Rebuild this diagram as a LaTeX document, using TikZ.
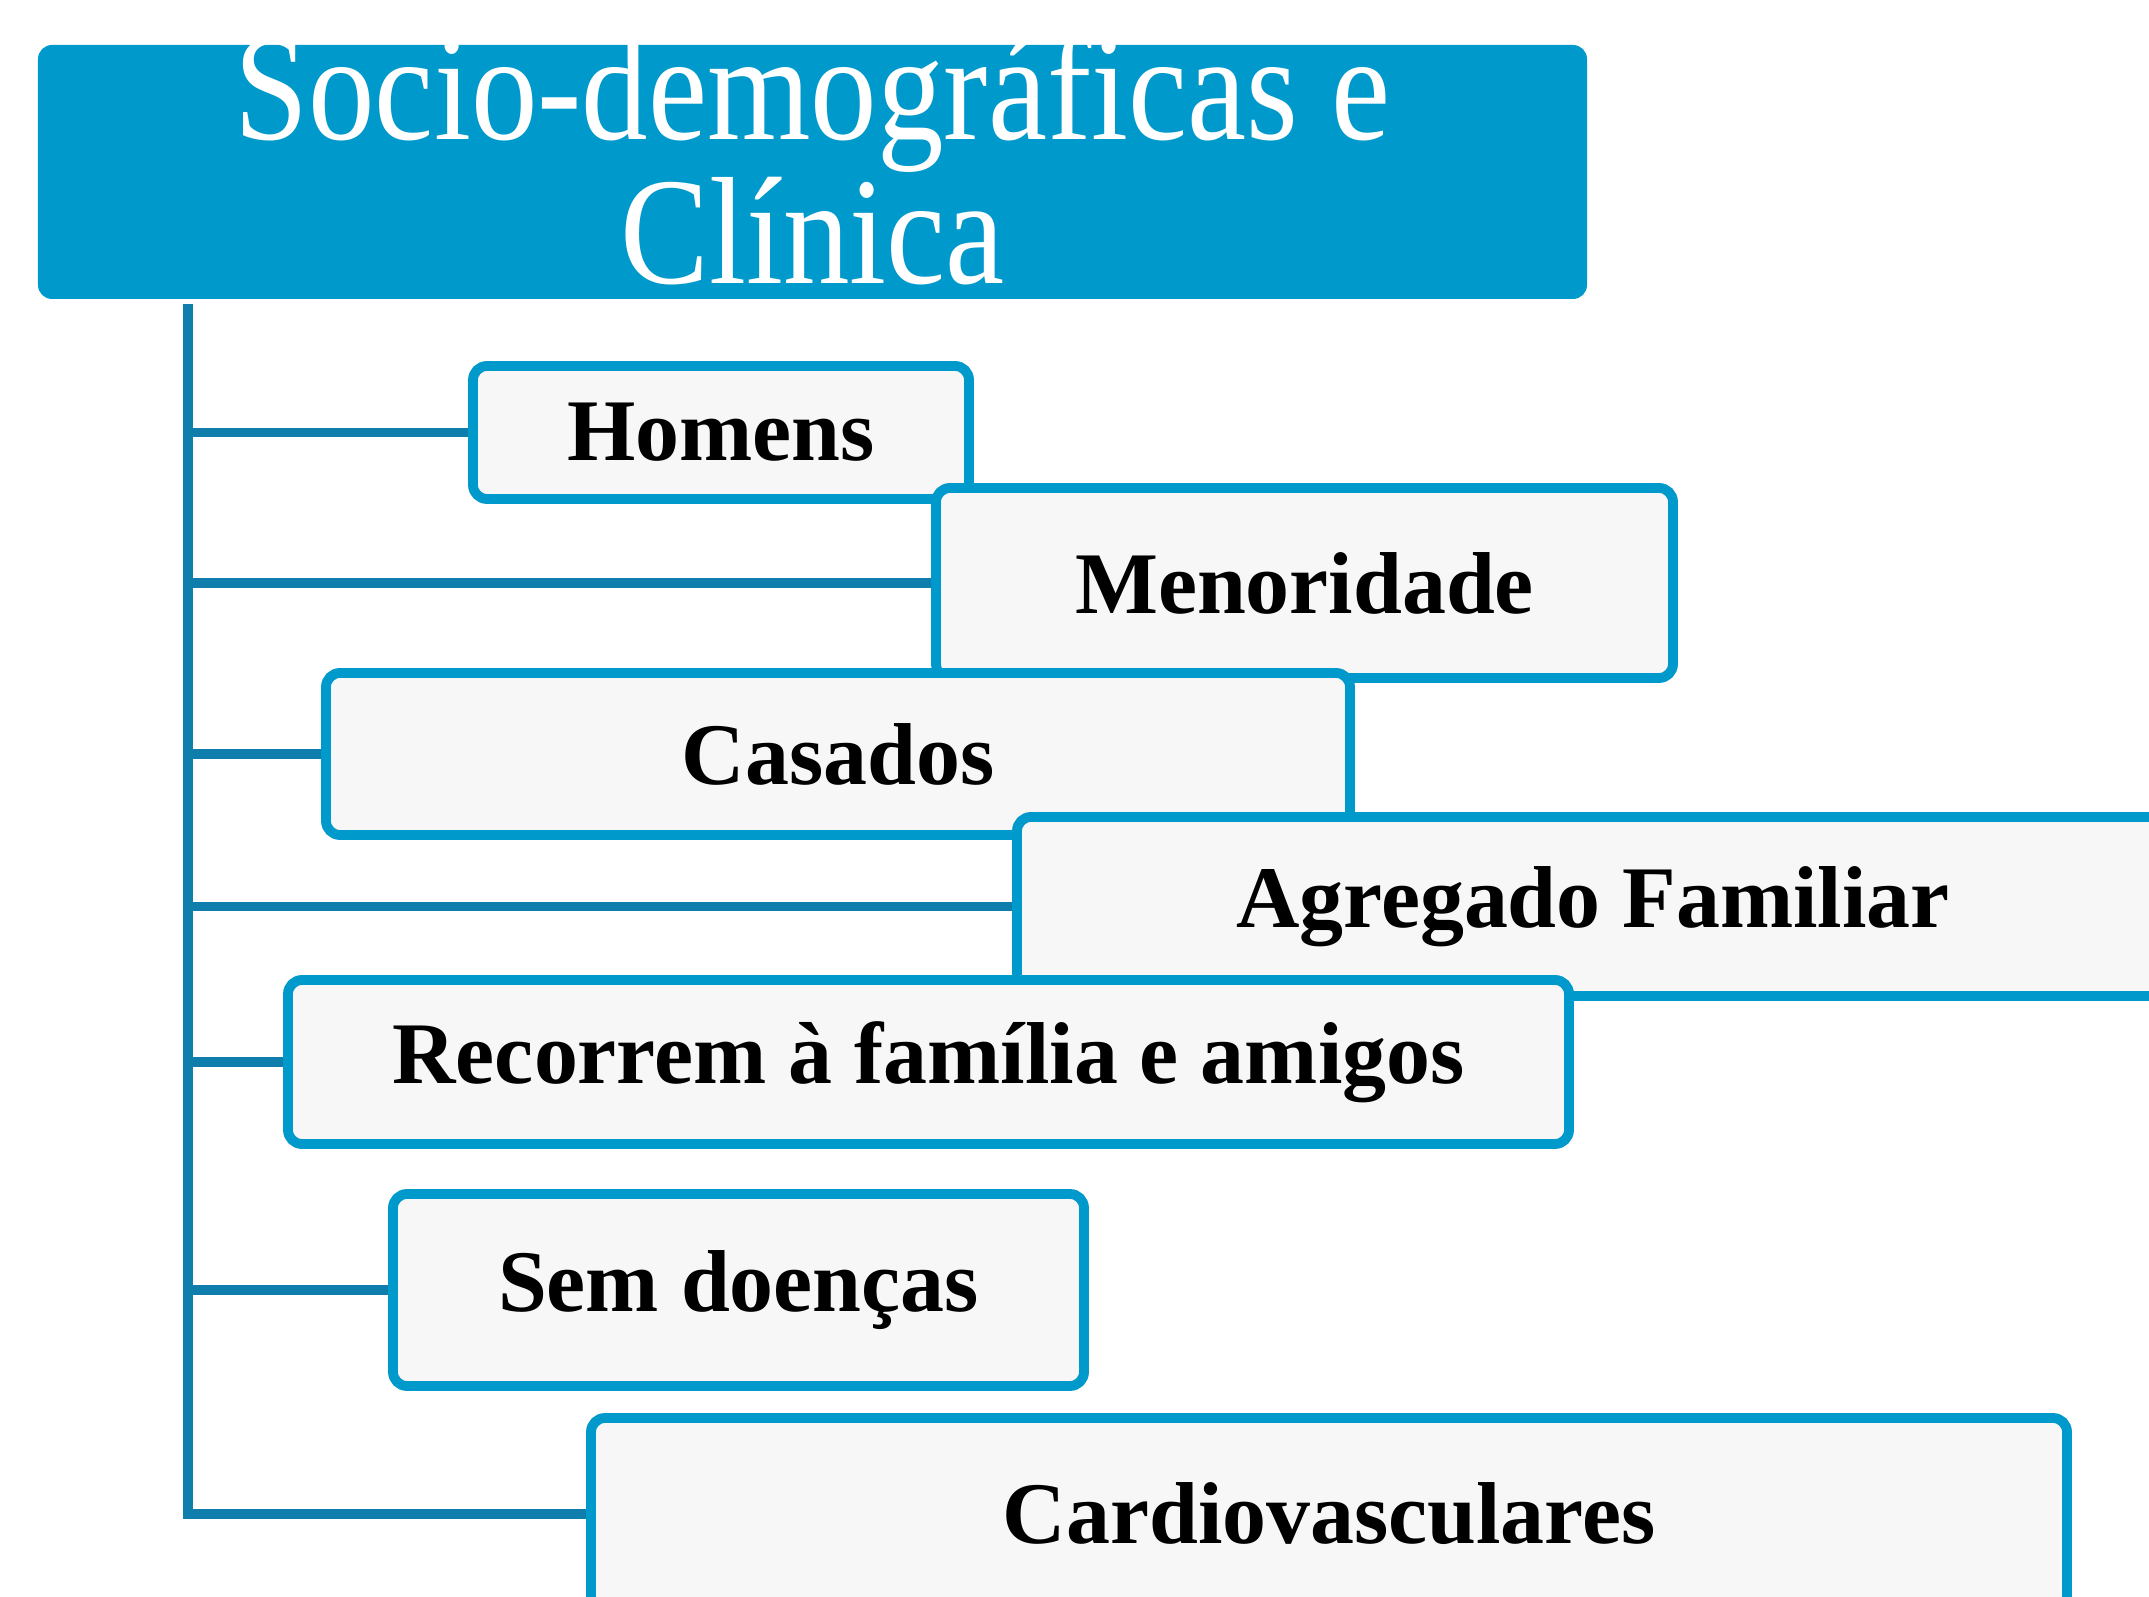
\documentclass[tikz,border=0pt]{standalone}
\usepackage{fontspec}
\setmainfont{Liberation Serif}
\newfontfamily\titlefont[FakeStretch=0.87]{Liberation Serif}
\definecolor{boxblue}{RGB}{0,153,204}
\definecolor{linkblue}{RGB}{16,126,172}
\definecolor{boxfill}{RGB}{247,247,247}
\begin{document}
\begin{tikzpicture}[
  headbox/.style={rectangle, rounded corners=0.14cm, fill=boxblue, text=white,
    align=center, font=\titlefont\fontsize{43.5}{41}\selectfont, inner sep=0pt,
    text height=2.39cm, text depth=0.15cm},
  itembox/.style={rectangle, rounded corners=0.14cm, draw=boxblue, line width=2.8pt,
    fill=boxfill, font=\bfseries\fontsize{25}{30}\selectfont, inner sep=0pt},
  link/.style={draw=linkblue, line width=2.8pt}]
\useasboundingbox (0,0) rectangle (21.49,-15.97);
\clip (0,0) rectangle (21.49,-15.97);
\node[headbox, minimum width=15.49cm, minimum height=2.54cm] (title) at (8.125,-1.72){Socio-demográficas e\\Clínica};
\coordinate (trunk) at (1.88,-3.04);
\node[itembox, minimum width=4.96cm, minimum height=1.33cm] (homens) at (7.21,-4.325){Homens};
\node[itembox, minimum width=7.37cm, minimum height=1.90cm] (menor) at (13.045,-5.83){Menoridade};
\node[itembox, minimum width=10.24cm, minimum height=1.62cm] (casados) at (8.38,-7.54){Casados};
\node[itembox, minimum width=11.52cm, minimum height=1.79cm] (agregado) at (15.93,-9.065){Agregado Familiar};
\node[itembox, minimum width=12.81cm, minimum height=1.64cm] (recorrem) at (9.285,-10.62){Recorrem à família e amigos};
\node[itembox, minimum width=6.91cm, minimum height=1.92cm] (semdoencas) at (7.385,-12.90){Sem doenças};
\node[itembox, minimum width=14.76cm, minimum height=1.92cm] (cardio) at (13.29,-15.14){Cardiovasculares};
\draw[link](trunk) |- (cardio.west);
\draw[link](trunk |- homens.west) -- (homens.west);
\draw[link](trunk |- menor.west) -- (menor.west);
\draw[link](trunk |- casados.west) -- (casados.west);
\draw[link](trunk |- agregado.west) -- (agregado.west);
\draw[link](trunk |- recorrem.west) -- (recorrem.west);
\draw[link](trunk |- semdoencas.west) -- (semdoencas.west);
\end{tikzpicture}
\end{document}
